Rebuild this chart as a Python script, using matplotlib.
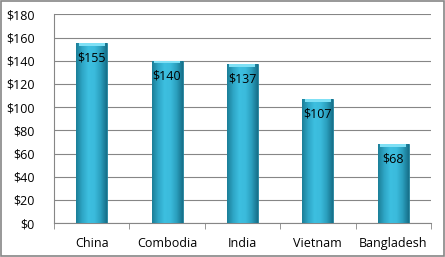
import numpy as np
import matplotlib
matplotlib.use("Agg")
import matplotlib.pyplot as plt
from matplotlib.colors import LinearSegmentedColormap
from matplotlib.patches import Rectangle

countries = ["China", "Combodia", "India", "Vietnam", "Bangladesh"]
values = [155, 140, 137, 107, 68]
yticks = [0, 20, 40, 60, 80, 100, 120, 140, 160, 180]

plt.rcParams['font.family'] = ['Open Sans', 'DejaVu Sans']

fig = plt.figure(figsize=(4.45, 2.57), dpi=100)
fig.patch.set_facecolor("white")
fig.add_artist(Rectangle((0.002, 0.004), 0.995, 0.992, transform=fig.transFigure,
                         fill=False, edgecolor="#868686", linewidth=1.2))
ax = fig.add_axes([0.1213, 0.132, 0.847, 0.812])

x = np.arange(len(countries))
bars = ax.bar(x, values, width=0.41, color="#36b3d3", edgecolor="#1f7f99",
              linewidth=0.6, zorder=3)

# horizontal shading across each bar to mimic the bevelled look
cmap = LinearSegmentedColormap.from_list(
    "bev", ["#1c7f98", "#2ea6c6", "#3dbfe0", "#3bbbdc", "#2b9fbe", "#16708a"])
grad = np.linspace(0, 1, 64).reshape(1, -1)
for b in bars:
    x0, w, h = b.get_x(), b.get_width(), b.get_height()
    im = ax.imshow(grad, cmap=cmap, extent=[x0, x0 + w, 0, h], aspect="auto",
                   zorder=3.5)
    im.set_clip_path(b)
    ax.add_patch(Rectangle((x0 + w * 0.08, h - 2.2), w * 0.84, 2.2,
                           color="#7fe0f5", zorder=3.6, linewidth=0))

for xi, v in zip(x, values):
    ax.text(xi, v - 13, f"${v}", ha="center", va="center", fontsize=9,
            color="black", zorder=5)

ax.set_xlim(-0.5, len(countries) - 0.5)
ax.set_ylim(0, 180)
ax.set_yticks(yticks)
ax.set_yticklabels([f"${t}" for t in yticks], fontsize=9)
ax.set_xticks(x)
ax.set_xticklabels(countries, fontsize=9)
ax.set_xticks(np.arange(len(countries) + 1) - 0.5, minor=True)
ax.tick_params(axis="x", which="major", length=0, pad=10)
ax.tick_params(axis="x", which="minor", length=4, color="#868686")
ax.tick_params(axis="y", length=0, pad=14)
ax.yaxis.grid(True, color="#868686", linewidth=0.8, zorder=0)
ax.set_axisbelow(True)
for s in ["top", "right"]:
    ax.spines[s].set_visible(False)
for s in ["left", "bottom"]:
    ax.spines[s].set_color("#868686")
    ax.spines[s].set_linewidth(0.8)

fig.savefig("out.png", dpi=100)
